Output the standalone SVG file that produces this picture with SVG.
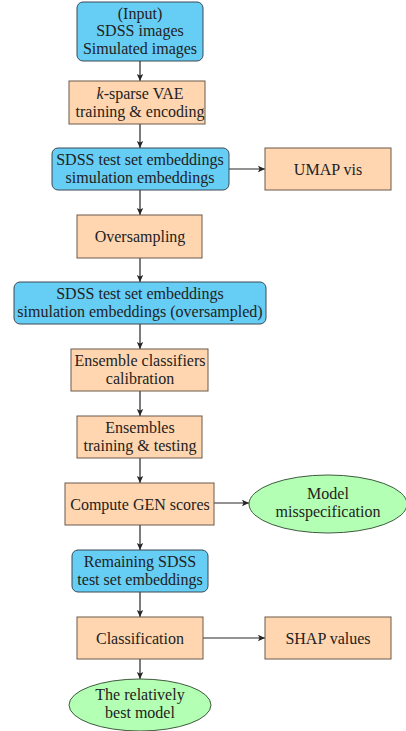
<svg xmlns="http://www.w3.org/2000/svg" width="406" height="731" viewBox="0 0 406 731">
<style>
.blue{fill:#66CDF4;stroke:#3a4a55;stroke-width:1}
.orange{fill:#FFD6B0;stroke:#6b5a4a;stroke-width:1}
.green{fill:#B3FFB3;stroke:#3f5a3f;stroke-width:1}
text{font-family:"Liberation Serif","DejaVu Serif",serif;font-size:16px;fill:#222;text-anchor:middle}
.conn line{stroke:#262626;stroke-width:1.2;marker-end:url(#arr)}
</style>
<defs>
<marker id="arr" markerWidth="8" markerHeight="8" refX="7" refY="4" orient="auto" markerUnits="userSpaceOnUse">
<path d="M0,0.8 L7,4 L0,7.2 L1.5,4 Z" fill="#262626"/>
</marker>
</defs>
<g id="connectors" class="conn">
<line x1="140" y1="61" x2="140" y2="81"/>
<line x1="140" y1="124" x2="140" y2="148"/>
<line x1="229" y1="169" x2="265" y2="169"/>
<line x1="140" y1="190" x2="140" y2="215"/>
<line x1="140" y1="258" x2="140" y2="282"/>
<line x1="140" y1="324" x2="140" y2="349"/>
<line x1="140" y1="391" x2="140" y2="416"/>
<line x1="140" y1="458" x2="140" y2="483"/>
<line x1="214" y1="503" x2="249" y2="503"/>
<line x1="140" y1="525" x2="140" y2="550"/>
<line x1="140" y1="592" x2="140" y2="617"/>
<line x1="203" y1="638" x2="265" y2="638"/>
<line x1="140" y1="659" x2="140" y2="679"/>
</g>
<g id="input">
<rect class="blue" x="77" y="2" width="126" height="59" rx="6"/>
<text x="140" y="18.5">(Input)</text>
<text x="140" y="36">SDSS images</text>
<text x="140" y="53.5">Simulated images</text>
</g>
<g id="vae">
<rect class="orange" x="69" y="81" width="136" height="43"/>
<text x="140" y="99"><tspan font-style="italic">k</tspan>-sparse VAE</text>
<text x="140" y="117">training &amp; encoding</text>
</g>
<g id="emb">
<rect class="blue" x="52" y="148" width="177" height="42" rx="6"/>
<text x="140" y="165">SDSS test set embeddings</text>
<text x="140" y="183">simulation embeddings</text>
</g>
<g id="umap">
<rect class="orange" x="265" y="148" width="126" height="42"/>
<text x="328" y="174.5">UMAP vis</text>
</g>
<g id="oversampling">
<rect class="orange" x="77" y="215" width="125" height="43"/>
<text x="140" y="241.5">Oversampling</text>
</g>
<g id="emb2">
<rect class="blue" x="14" y="282" width="252" height="42" rx="6"/>
<text x="140" y="299">SDSS test set embeddings</text>
<text x="140" y="317">simulation embeddings (oversampled)</text>
</g>
<g id="calib">
<rect class="orange" x="71" y="349" width="137" height="42"/>
<text x="140" y="366">Ensemble classifiers</text>
<text x="140" y="384">calibration</text>
</g>
<g id="ensembles">
<rect class="orange" x="77" y="416" width="125" height="42"/>
<text x="140" y="433">Ensembles</text>
<text x="140" y="451">training &amp; testing</text>
</g>
<g id="gen">
<rect class="orange" x="65" y="483" width="149" height="42"/>
<text x="140" y="509.5">Compute GEN scores</text>
</g>
<g id="misspec">
<ellipse class="green" cx="328" cy="504" rx="79" ry="29"/>
<text x="328" y="499">Model</text>
<text x="328" y="517">misspecification</text>
</g>
<g id="remaining">
<rect class="blue" x="72" y="550" width="136" height="42" rx="6"/>
<text x="140" y="567">Remaining SDSS</text>
<text x="140" y="585">test set embeddings</text>
</g>
<g id="classification">
<rect class="orange" x="77" y="617" width="126" height="42"/>
<text x="140" y="643.5">Classification</text>
</g>
<g id="shap">
<rect class="orange" x="265" y="617" width="126" height="42"/>
<text x="328" y="643.5">SHAP values</text>
</g>
<g id="best">
<ellipse class="green" cx="140" cy="705" rx="71" ry="26"/>
<text x="140" y="700">The relatively</text>
<text x="140" y="718">best model</text>
</g>
</svg>
